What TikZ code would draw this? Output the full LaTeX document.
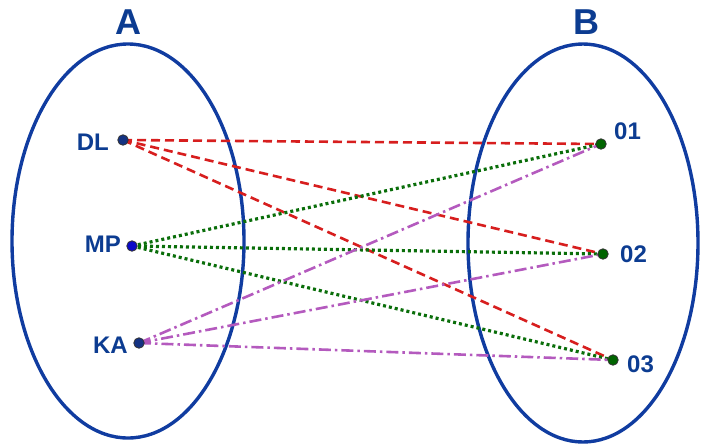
\documentclass[tikz,border=0pt]{standalone}
\usepackage{fontspec}
\setmainfont{Liberation Sans}
\begin{document}
\begin{tikzpicture}[x=1pt,y=-1pt,
  setline/.style={draw=setblue,line width=3.4pt},
  setlabel/.style={font=\fontsize{36}{36}\selectfont\bfseries,text=txtblue},
  elemlabel/.style={font=\fontsize{24}{24}\selectfont\bfseries,text=txtblue,inner sep=0pt},
  ptA/.style={circle,draw=black!80,line width=0.8pt,fill=navyfill,minimum size=10.5pt,inner sep=0pt},
  ptB/.style={circle,draw=black!80,line width=0.8pt,fill=greenfill,minimum size=10.5pt,inner sep=0pt},
  redline/.style={draw=redc,line width=2.6pt,dash pattern=on 9pt off 5pt},
  greenline/.style={draw=greenc,line width=3.2pt,dash pattern=on 3pt off 3pt},
  purpleline/.style={draw=purplec,line width=2.6pt,dash pattern=on 12pt off 4pt on 2.5pt off 4pt}]
\definecolor{setblue}{RGB}{16,60,160}
\definecolor{txtblue}{RGB}{12,60,145}
\definecolor{navyfill}{RGB}{20,50,130}
\definecolor{bluefill}{RGB}{10,10,200}
\definecolor{greenfill}{RGB}{0,100,0}
\definecolor{redc}{RGB}{215,30,30}
\definecolor{greenc}{RGB}{10,110,10}
\definecolor{purplec}{RGB}{180,90,190}
\useasboundingbox (0,0) rectangle (704,445);
\draw[setline] (128,241) ellipse [x radius=116, y radius=197];
\draw[setline] (583,243) ellipse [x radius=115, y radius=199];
\node[setlabel] (lA) at (128,22) {A};
\node[setlabel] (lB) at (586,22) {B};
\coordinate (DL) at (123,140);
\coordinate (MP) at (132,246);
\coordinate (KA) at (139,343);
\coordinate (O1) at (601,144);
\coordinate (O2) at (603,254);
\coordinate (O3) at (613,360);
\foreach \t in {O1,O2,O3} \draw[redline] (DL) -- (\t);
\foreach \t in {O1,O2,O3} \draw[greenline] (MP) -- (\t);
\foreach \t in {O1,O2,O3} \draw[purpleline] (KA) -- (\t);
\node[ptA] (pDL) at (DL) {};
\node[ptA,fill=bluefill] (pMP) at (MP) {};
\node[ptA] (pKA) at (KA) {};
\node[ptB] (p1) at (O1) {};
\node[ptB] (p2) at (O2) {};
\node[ptB] (p3) at (O3) {};
\node[elemlabel,anchor=east] (tDL) at (109,142) {DL};
\node[elemlabel,anchor=east] (tMP) at (121,244) {MP};
\node[elemlabel,anchor=east] (tKA) at (128,345) {KA};
\node[elemlabel,anchor=west] (t1) at (614,131) {01};
\node[elemlabel,anchor=west] (t2) at (620,254) {02};
\node[elemlabel,anchor=west] (t3) at (627,364) {03};
\end{tikzpicture}
\end{document}
